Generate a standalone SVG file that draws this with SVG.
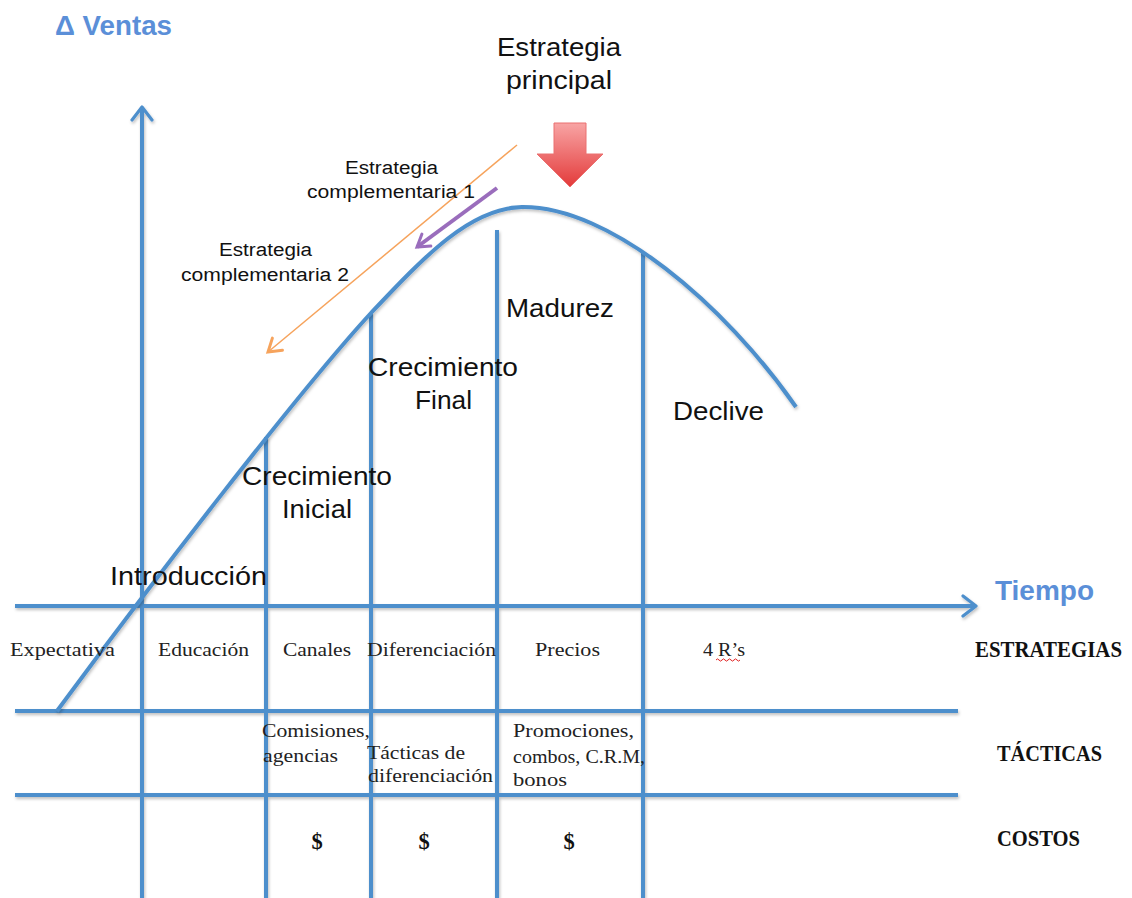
<svg xmlns="http://www.w3.org/2000/svg" width="1132" height="898" viewBox="0 0 1132 898">
<style>
.ln{stroke:#4d8fcc;stroke-width:4;fill:none;stroke-linecap:butt}
.sans{font-family:"Liberation Sans",Arial,sans-serif;fill:#111}
.big{font-size:26px}
.small{font-size:18px}
.blue{font-family:"Liberation Sans",Arial,sans-serif;font-weight:bold;font-size:27px;fill:#5b8fd8}
.serif{font-family:"Liberation Serif","Times New Roman",serif;font-size:19px;fill:#222}
.hdr{font-family:"Liberation Serif","Times New Roman",serif;font-size:22.5px;font-weight:bold;fill:#111}
</style>
<defs>
<filter id="sh" x="-5%" y="-5%" width="110%" height="110%">
<feDropShadow dx="1" dy="2" stdDeviation="1.5" flood-color="#000" flood-opacity="0.25"/>
</filter>
<marker id="chev" viewBox="0 0 12 12" refX="9.5" refY="6" markerWidth="6" markerHeight="6" orient="auto" markerUnits="strokeWidth">
<path d="M3,1 L9.5,6 L3,11" fill="none" stroke="#4d8fcc" stroke-width="1.6" stroke-linecap="round" stroke-linejoin="round"/>
</marker>
<marker id="orA" viewBox="0 0 12 12" refX="10" refY="6" markerWidth="14" markerHeight="14" orient="auto" markerUnits="strokeWidth">
<path d="M3,1.5 L10,6 L3,10.5" fill="none" stroke="#f6a35c" stroke-width="1.7" stroke-linecap="round"/>
</marker>
<marker id="puA" viewBox="0 0 12 12" refX="10" refY="6" markerWidth="5" markerHeight="5" orient="auto" markerUnits="strokeWidth">
<path d="M3,1.5 L10,6 L3,10.5" fill="none" stroke="#9a6dbc" stroke-width="1.8" stroke-linecap="round"/>
</marker>
<linearGradient id="red" x1="0" y1="0" x2="0" y2="1">
<stop offset="0" stop-color="#f8a4a4"/>
<stop offset="1" stop-color="#e33a3a"/>
</linearGradient>
</defs>

<g id="grid" filter="url(#sh)">
<line class="ln" x1="142" y1="898" x2="142" y2="107" marker-end="url(#chev)"/>
<line class="ln" x1="15" y1="606" x2="976" y2="606" marker-end="url(#chev)"/>
<line class="ln" x1="15" y1="711" x2="958" y2="711"/>
<line class="ln" x1="15" y1="795" x2="958" y2="795"/>
<line class="ln" x1="266" y1="437" x2="266" y2="898"/>
<line class="ln" x1="371" y1="313" x2="371" y2="898"/>
<line class="ln" x1="497" y1="230" x2="497" y2="898"/>
<line class="ln" x1="643" y1="253" x2="643" y2="898"/>
</g>

<g id="curve" filter="url(#sh)">
<path class="ln" d="M57,711 C150,585 300,390 371,313 C425,256 470,208 522,207 C610,206 725,305 796,407"/>
</g>

<g id="connectors">
<line x1="517" y1="145" x2="268" y2="352" stroke="#f6a35c" stroke-width="1.5" marker-end="url(#orA)"/>
<line x1="497" y1="188" x2="417" y2="247" stroke="#9a6dbc" stroke-width="4" marker-end="url(#puA)"/>
</g>

<g id="red-arrow">
<path d="M554,123 L586,123 L586,154 L603,154 L570,187 L537,154 L554,154 Z" fill="url(#red)" stroke="#ea7070" stroke-width="1"/>
</g>

<g id="labels">
<text class="blue" x="55" y="35" textLength="117" lengthAdjust="spacingAndGlyphs">Δ Ventas</text>
<text class="blue" x="995" y="600" textLength="99" lengthAdjust="spacingAndGlyphs">Tiempo</text>
<text class="sans big" x="497" y="56" textLength="124" lengthAdjust="spacingAndGlyphs">Estrategia</text>
<text class="sans big" x="506" y="89" textLength="106" lengthAdjust="spacingAndGlyphs">principal</text>
<text class="sans small" x="345" y="174" textLength="93" lengthAdjust="spacingAndGlyphs">Estrategia</text>
<text class="sans small" x="307" y="198" textLength="168" lengthAdjust="spacingAndGlyphs">complementaria 1</text>
<text class="sans small" x="219" y="256" textLength="93" lengthAdjust="spacingAndGlyphs">Estrategia</text>
<text class="sans small" x="181" y="281" textLength="168" lengthAdjust="spacingAndGlyphs">complementaria 2</text>
<text class="sans big" x="506" y="317" textLength="108" lengthAdjust="spacingAndGlyphs">Madurez</text>
<text class="sans big" x="368" y="376" textLength="150" lengthAdjust="spacingAndGlyphs">Crecimiento</text>
<text class="sans big" x="415" y="409" textLength="57" lengthAdjust="spacingAndGlyphs">Final</text>
<text class="sans big" x="673" y="420" textLength="91" lengthAdjust="spacingAndGlyphs">Declive</text>
<text class="sans big" x="242" y="485" textLength="150" lengthAdjust="spacingAndGlyphs">Crecimiento</text>
<text class="sans big" x="282" y="518" textLength="70" lengthAdjust="spacingAndGlyphs">Inicial</text>
<text class="sans big" x="110" y="585" textLength="157" lengthAdjust="spacingAndGlyphs">Introducción</text>
</g>

<g id="table">
<text class="serif" x="10" y="656" textLength="105" lengthAdjust="spacingAndGlyphs">Expectativa</text>
<text class="serif" x="158" y="656" textLength="91" lengthAdjust="spacingAndGlyphs">Educación</text>
<text class="serif" x="283" y="656" textLength="68" lengthAdjust="spacingAndGlyphs">Canales</text>
<text class="serif" x="367" y="656" textLength="129" lengthAdjust="spacingAndGlyphs">Diferenciación</text>
<text class="serif" x="535" y="656" textLength="65" lengthAdjust="spacingAndGlyphs">Precios</text>
<text class="serif" x="703" y="656" textLength="42" lengthAdjust="spacingAndGlyphs">4 R’s</text>
<path d="M716,660 q1.5,-2.2 3,0 t3,0 t3,0 t3,0 t3,0 t3,0 t3,0 t3,0" fill="none" stroke="#e02020" stroke-width="1"/>
<text class="hdr" x="975" y="657" textLength="147" lengthAdjust="spacingAndGlyphs">ESTRATEGIAS</text>

<text class="serif" x="262" y="737" textLength="108" lengthAdjust="spacingAndGlyphs">Comisiones,</text>
<text class="serif" x="263" y="762" textLength="75" lengthAdjust="spacingAndGlyphs">agencias</text>
<text class="serif" x="367" y="759" textLength="98" lengthAdjust="spacingAndGlyphs">Tácticas de</text>
<text class="serif" x="368" y="782" textLength="125" lengthAdjust="spacingAndGlyphs">diferenciación</text>
<text class="serif" x="513" y="737" textLength="121" lengthAdjust="spacingAndGlyphs">Promociones,</text>
<text class="serif" x="513" y="763" textLength="132" lengthAdjust="spacingAndGlyphs">combos, C.R.M,</text>
<text class="serif" x="513" y="786" textLength="54" lengthAdjust="spacingAndGlyphs">bonos</text>
<text class="hdr" x="997" y="761" textLength="105" lengthAdjust="spacingAndGlyphs">TÁCTICAS</text>

<text class="hdr" x="317" y="849" text-anchor="middle" font-size="24">$</text>
<text class="hdr" x="424" y="849" text-anchor="middle" font-size="24">$</text>
<text class="hdr" x="569" y="849" text-anchor="middle" font-size="24">$</text>
<text class="hdr" x="997" y="846" textLength="83" lengthAdjust="spacingAndGlyphs">COSTOS</text>
</g>
</svg>
